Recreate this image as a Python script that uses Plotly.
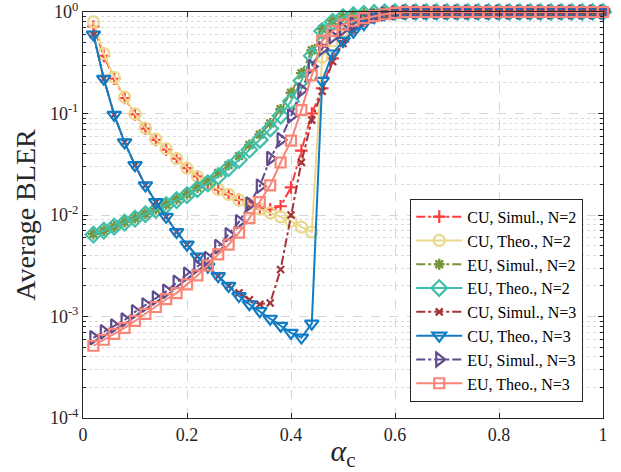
import plotly.graph_objects as go

# Power-splitting factor alpha_c
alpha_c = [0.02, 0.04, 0.06, 0.08, 0.10, 0.12, 0.14, 0.16, 0.18, 0.20,
           0.22, 0.24, 0.26, 0.28, 0.30, 0.32, 0.34, 0.36, 0.38, 0.40,
           0.42, 0.44, 0.46, 0.48, 0.50, 0.52, 0.54, 0.56, 0.58, 0.60,
           0.62, 0.64, 0.66, 0.68, 0.70, 0.72, 0.74, 0.76, 0.78, 0.80,
           0.82, 0.84, 0.86, 0.88, 0.90, 0.92, 0.94, 0.96, 0.98, 1.00]

cu_sim_n2 = [0.72, 0.37, 0.22, 0.142, 0.098, 0.071, 0.055, 0.044, 0.036, 0.029,
             0.024, 0.020, 0.0178, 0.016, 0.0141, 0.0129, 0.0116, 0.0114, 0.0122, 0.0187,
             0.043, 0.10, 0.177, 0.35, 0.51, 0.68, 0.82, 0.91, 0.98, 1.0,
             1.0, 1.0, 1.0, 1.0, 1.0, 1.0, 1.0, 1.0, 1.0, 1.0,
             1.0, 1.0, 1.0, 1.0, 1.0, 1.0, 1.0, 1.0, 1.0, 1.0]

cu_theo_n2 = [0.80, 0.39, 0.227, 0.145, 0.099, 0.072, 0.056, 0.045, 0.036, 0.029,
              0.024, 0.020, 0.0179, 0.016, 0.014, 0.0128, 0.0114, 0.0105, 0.0096, 0.0087,
              0.0076, 0.0068, 0.36, 0.52, 0.65, 0.76, 0.85, 0.92, 0.97, 1.0,
              1.0, 1.0, 1.0, 1.0, 1.0, 1.0, 1.0, 1.0, 1.0, 1.0,
              1.0, 1.0, 1.0, 1.0, 1.0, 1.0, 1.0, 1.0, 1.0, 1.0]

eu_sim_n2 = [0.0065, 0.0070, 0.0077, 0.0085, 0.0093, 0.0103, 0.0114, 0.0127, 0.0143, 0.0161,
             0.0186, 0.0215, 0.026, 0.031, 0.038, 0.049, 0.062, 0.080, 0.110, 0.160,
             0.25, 0.42, 0.68, 0.82, 0.90, 0.94, 0.97, 0.98, 0.99, 1.0,
             1.0, 1.0, 1.0, 1.0, 1.0, 1.0, 1.0, 1.0, 1.0, 1.0,
             1.0, 1.0, 1.0, 1.0, 1.0, 1.0, 1.0, 1.0, 1.0, 1.0]

eu_theo_n2 = [0.0064, 0.0070, 0.0077, 0.0084, 0.0092, 0.0102, 0.0112, 0.0125, 0.0140, 0.0157,
              0.0180, 0.0205, 0.024, 0.029, 0.035, 0.044, 0.055, 0.071, 0.095, 0.132,
              0.21, 0.37, 0.65, 0.80, 0.89, 0.93, 0.96, 0.98, 0.99, 1.0,
              1.0, 1.0, 1.0, 1.0, 1.0, 1.0, 1.0, 1.0, 1.0, 1.0,
              1.0, 1.0, 1.0, 1.0, 1.0, 1.0, 1.0, 1.0, 1.0, 1.0]

cu_sim_n3 = [0.60, 0.22, 0.097, 0.052, 0.031, 0.0196, 0.0134, 0.0096, 0.0068, 0.0051,
             0.0039, 0.0031, 0.0025, 0.0020, 0.00171, 0.00146, 0.00132, 0.00136, 0.0029, 0.0100,
             0.033, 0.086, 0.166, 0.325, 0.49, 0.66, 0.80, 0.90, 0.97, 1.0,
             1.0, 1.0, 1.0, 1.0, 1.0, 1.0, 1.0, 1.0, 1.0, 1.0,
             1.0, 1.0, 1.0, 1.0, 1.0, 1.0, 1.0, 1.0, 1.0, 1.0]

cu_theo_n3 = [0.60, 0.22, 0.097, 0.052, 0.031, 0.0196, 0.0134, 0.0096, 0.0068, 0.0051,
              0.0039, 0.0031, 0.0025, 0.0020, 0.00159, 0.00132, 0.00113, 0.00095, 0.00081, 0.00069,
              0.00062, 0.00085, 0.21, 0.39, 0.52, 0.64, 0.76, 0.89, 0.96, 1.0,
              1.0, 1.0, 1.0, 1.0, 1.0, 1.0, 1.0, 1.0, 1.0, 1.0,
              1.0, 1.0, 1.0, 1.0, 1.0, 1.0, 1.0, 1.0, 1.0, 1.0]

eu_sim_n3 = [0.000617, 0.000706, 0.000807, 0.000924, 0.00111, 0.0013, 0.00152, 0.00177, 0.00217, 0.0026,
             0.00311, 0.00372, 0.00488, 0.00638, 0.00855, 0.0128, 0.0192, 0.036, 0.0551, 0.0946,
             0.17, 0.29, 0.435, 0.57, 0.68, 0.76, 0.85, 0.91, 0.955, 0.98,
             1.0, 1.0, 1.0, 1.0, 1.0, 1.0, 1.0, 1.0, 1.0, 1.0,
             1.0, 1.0, 1.0, 1.0, 1.0, 1.0, 1.0, 1.0, 1.0, 1.0]

eu_theo_n3 = [0.000515, 0.00059, 0.000675, 0.000773, 0.000904, 0.00106, 0.00124, 0.00148, 0.0017, 0.00207,
              0.00254, 0.00318, 0.0041, 0.0051, 0.0067, 0.0093, 0.0134, 0.0196, 0.0329, 0.054,
              0.108, 0.238, 0.52, 0.65, 0.75, 0.82, 0.87, 0.91, 0.95, 0.98,
              1.0, 1.0, 1.0, 1.0, 1.0, 1.0, 1.0, 1.0, 1.0, 1.0,
              1.0, 1.0, 1.0, 1.0, 1.0, 1.0, 1.0, 1.0, 1.0, 1.0]

x_ticks = [0, 0.2, 0.4, 0.6, 0.8, 1]
x_tick_labels = ["0", "0.2", "0.4", "0.6", "0.8", "1"]
y_ticks = [1e-4, 1e-3, 1e-2, 1e-1, 1]
y_tick_labels = ["10<sup>-4</sup>", "10<sup>-3</sup>", "10<sup>-2</sup>",
                 "10<sup>-1</sup>", "10<sup>0</sup>"]

SERIF = "Liberation Serif"

# (name, values, colour, dash, marker symbol, marker size, marker line width)
series = [
    ("CU, Simul., N=2", cu_sim_n2, "#FF3B3B", "dashdot", "cross-thin-open", 9, 2.2),
    ("CU, Theo., N=2", cu_theo_n2, "#EBD88A", "solid", "circle-open", 11, 2.2),
    ("EU, Simul., N=2", eu_sim_n2, "#77933C", "dashdot", "asterisk-open", 9, 2.4),
    ("EU, Theo., N=2", eu_theo_n2, "#3FBFAA", "solid", "diamond-open", 12, 2.2),
    ("CU, Simul., N=3", cu_sim_n3, "#A2343A", "dashdot", "x-thin-open", 7, 2.2),
    ("CU, Theo., N=3", cu_theo_n3, "#0F7CC4", "solid", "triangle-down-open", 12, 2.2),
    ("EU, Simul., N=3", eu_sim_n3, "#5E4A8C", "dashdot", "triangle-right-open", 12, 2.2),
    ("EU, Theo., N=3", eu_theo_n3, "#FA8576", "solid", "square-open", 10, 2.2),
]

fig = go.Figure()
for name, vals, color, dash, sym, size, lw in series:
    fig.add_trace(go.Scatter(
        x=alpha_c, y=vals, name=name, mode="lines+markers",
        line=dict(color=color, width=2, dash=dash),
        marker=dict(symbol=sym, size=size, color=color,
                    line=dict(color=color, width=lw)),
        cliponaxis=False,
    ))

axis_color = "#262626"
major_grid = "#D6D6D6"
minor_grid = "#DADADA"

minor_y = [m * 10.0 ** e for e in range(-4, 0) for m in range(2, 10)]

fig.update_layout(
    width=621, height=472,
    margin=dict(l=83, r=18, t=12, b=54, autoexpand=False),
    paper_bgcolor="white", plot_bgcolor="white",
    font=dict(family=SERIF, size=18, color="#262626"),
    showlegend=True,
    legend=dict(
        x=0.962, y=0.29, xanchor="right", yanchor="middle",
        bgcolor="white", bordercolor="#262626", borderwidth=1,
        font=dict(family=SERIF, size=16, color="#000000"),
        tracegroupgap=0, itemwidth=46,
    ),
    xaxis=dict(
        range=[0, 1], tickmode="array", tickvals=x_ticks, ticktext=x_tick_labels,
        ticks="inside", ticklen=5, tickcolor=axis_color,
        showline=True, linecolor=axis_color, linewidth=1, mirror="allticks",
        showgrid=True, gridcolor=major_grid, griddash="dash", gridwidth=1,
        zeroline=False, ticklabeloverflow="allow", automargin=False,
        tickfont=dict(family=SERIF, size=18, color="#262626"),
        title=dict(text="<i>α</i><sub>c</sub>", font=dict(family=SERIF, size=30, color="#262626"),
                   standoff=2),
    ),
    yaxis=dict(
        type="log", range=[-4, 0.00001], tickmode="array", tickvals=y_ticks, ticktext=y_tick_labels,
        ticks="inside", ticklen=5, tickcolor=axis_color,
        showline=True, linecolor=axis_color, linewidth=1, mirror="allticks",
        showgrid=True, gridcolor=major_grid, griddash="dash", gridwidth=1,
        zeroline=False, ticklabeloverflow="allow", automargin=False,
        tickfont=dict(family=SERIF, size=18, color="#262626"),
        minor=dict(tickmode="array", tickvals=minor_y, ticks="inside", ticklen=3,
                   tickcolor=axis_color, showgrid=True, gridcolor=minor_grid,
                   griddash="dot", gridwidth=1),
        title=dict(text="Average BLER", font=dict(family=SERIF, size=28, color="#262626"),
                   standoff=6),
    ),
)

fig.write_html("out.html")
